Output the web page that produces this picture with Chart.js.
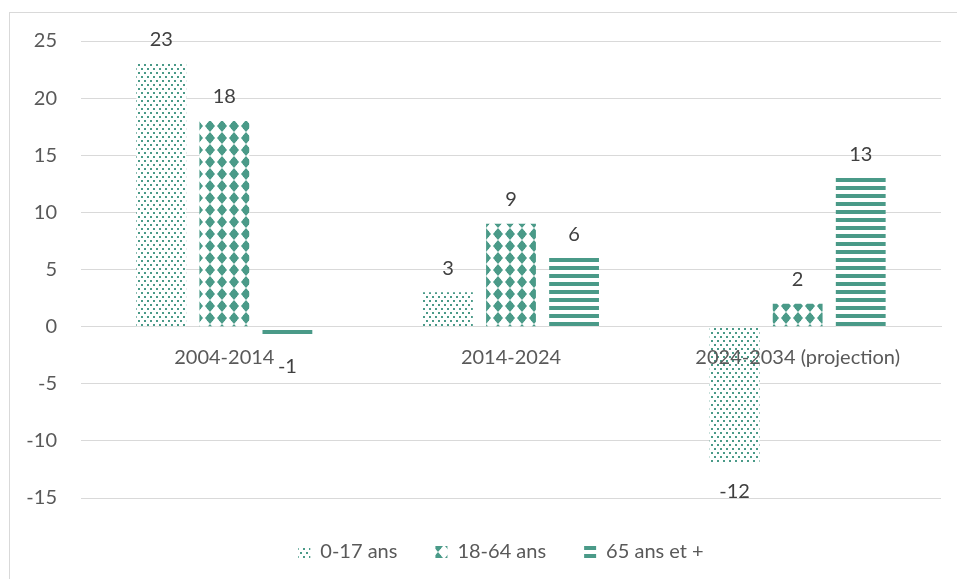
<!DOCTYPE html>
<html>
<head>
<meta charset="utf-8">
<script src="https://cdn.jsdelivr.net/npm/chart.js@4/dist/chart.umd.min.js"></script>
<style>
  html, body { margin: 0; padding: 0; background: #fff; }
  #wrap { position: relative; width: 957px; height: 579px; }
  #frame { position: absolute; left: 9px; top: 12px; right: 0; bottom: 0; border-left: 1px solid #d9d9d9; border-top: 1px solid #d9d9d9; }
  canvas { position: absolute; left: 0; top: 0; }
</style>
</head>
<body>
<div id="wrap">
  <div id="frame"></div>
  <canvas id="popChart" width="957" height="579"></canvas>
</div>
<script>
const periods = ['2004-2014', '2014-2024', '2024-2034 (projection)'];
const ages0to17 = [23, 3, -12];
const ages18to64 = [18, 9, 2];
const ages65plus = [-1, 6, 13];
const seriesNames = ['0-17 ans', '18-64 ans', '65 ans et +'];

const teal = '#4a9a88';
const fontFamily = 'Lato, "Open Sans", sans-serif';
const fontSize = 20;

function makePattern(w, h, draw) {
  const c = document.createElement('canvas');
  c.width = w;
  c.height = h;
  const ctx = c.getContext('2d');
  ctx.fillStyle = '#fff';
  ctx.fillRect(0, 0, w, h);
  ctx.fillStyle = teal;
  draw(ctx);
  return ctx.createPattern(c, 'repeat');
}

// staggered small dots
const dotPattern = makePattern(6, 8, ctx => {
  ctx.fillRect(0, 0, 2, 2);
  ctx.fillRect(3, 4, 2, 2);
});

// fat diamonds
const diamondPattern = makePattern(12, 12, ctx => {
  ctx.beginPath();
  ctx.moveTo(6, 0);
  ctx.lineTo(11, 6);
  ctx.lineTo(6, 12);
  ctx.lineTo(1, 6);
  ctx.closePath();
  ctx.fill();
  ctx.fillRect(3, 3, 6, 6);
});

// horizontal stripes
const stripePattern = makePattern(8, 8, ctx => {
  ctx.fillRect(0, 2, 8, 4);
});

const valueLabels = {
  id: 'valueLabels',
  afterDatasetsDraw(chart) {
    const ctx = chart.ctx;
    ctx.save();
    ctx.font = fontSize + 'px ' + fontFamily;
    ctx.fillStyle = '#404040';
    ctx.textAlign = 'center';
    ctx.textBaseline = 'middle';
    chart.data.datasets.forEach((ds, i) => {
      chart.getDatasetMeta(i).data.forEach((bar, j) => {
        const v = ds.data[j];
        const y = v >= 0 ? bar.y - 24 : bar.y + 28;
        ctx.fillText(String(v), bar.x, y);
      });
    });
    ctx.restore();
  }
};

// nudge the legend a little to the left, like the original
const legendShift = {
  id: 'legendShift',
  afterLayout(chart) {
    chart.legend.left -= 10;
    chart.legend.right -= 10;
  }
};

new Chart(document.getElementById('popChart'), {
  type: 'bar',
  data: {
    labels: periods,
    datasets: [
      { label: seriesNames[0], data: ages0to17, backgroundColor: dotPattern },
      { label: seriesNames[1], data: ages18to64, backgroundColor: diamondPattern },
      { label: seriesNames[2], data: ages65plus, backgroundColor: stripePattern }
    ]
  },
  options: {
    responsive: false,
    animation: false,
    devicePixelRatio: 1,
    categoryPercentage: 0.66,
    barPercentage: 0.79,
    layout: { padding: { left: 0, right: 16, top: 41, bottom: 7 } },
    plugins: {
      tooltip: { enabled: false },
      legend: {
        position: 'bottom',
        fullSize: false,
        labels: {
          font: { family: fontFamily, size: fontSize },
          color: '#595959',
          boxWidth: 12,
          boxHeight: 12,
          padding: 38
        }
      }
    },
    scales: {
      x: {
        position: { y: 0 },
        grid: { display: false, drawTicks: false },
        border: { display: true, color: '#d9d9d9' },
        ticks: { z: 1, font: { family: fontFamily, size: fontSize }, color: '#595959', padding: 19 }
      },
      pad: {
        type: 'category',
        labels: periods,
        position: 'bottom',
        grid: { display: false, drawTicks: false },
        border: { display: false },
        ticks: { display: false },
        afterFit: s => { s.height = 6; }
      },
      y: {
        min: -15,
        max: 25,
        ticks: { stepSize: 5, font: { family: fontFamily, size: fontSize }, color: '#595959', padding: 24 },
        grid: { color: '#d9d9d9', drawTicks: false },
        border: { display: false },
        afterFit: s => { s.width = 81; }
      }
    }
  },
  plugins: [valueLabels, legendShift]
});
</script>
</body>
</html>
